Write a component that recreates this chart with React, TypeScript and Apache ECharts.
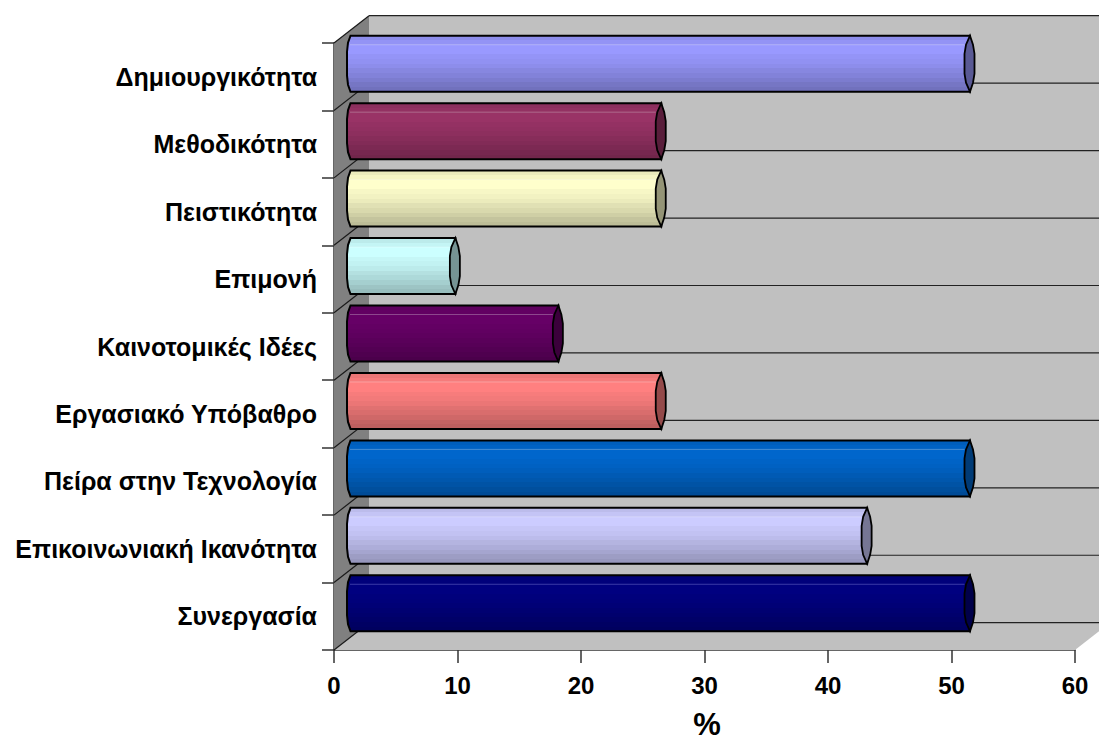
import React, { useEffect, useRef } from "react";
import * as echarts from "echarts";

const categories = ["Συνεργασία", "Επικοινωνιακή Ικανότητα", "Πείρα στην Τεχνολογία", "Εργασιακό Υπόβαθρο", "Καινοτομικές Ιδέες", "Επιμονή", "Πειστικότητα", "Μεθοδικότητα", "Δημιουργικότητα"];
const values = [50, 41.67, 50, 25, 16.67, 8.33, 25, 25, 50];
const colors = ["#000080", "#CCCCFF", "#0066CC", "#FF8080", "#660066", "#CCFFFF", "#FFFFCC", "#993366", "#9999FF"];
const shades = [0.92, 0.96, 1, 1, 0.97, 0.95, 0.92, 0.88, 0.85, 0.81, 0.77, 0.74];

const DX = 35, DY = -27.3;
const OX = 13, OY = -13, HALF = 28;

function shade(hex: string, f: number) {
  const n = parseInt(hex.slice(1), 16);
  const c = [(n >> 16) & 255, (n >> 8) & 255, n & 255].map((v) => Math.round(v * f));
  return `rgb(${c[0]},${c[1]},${c[2]})`;
}

function bandGradient(hex: string) {
  const stops: any[] = [];
  shades.forEach((f, i) => {
    stops.push({ offset: i / shades.length, color: shade(hex, f) });
    stops.push({ offset: (i + 1) / shades.length, color: shade(hex, f) });
  });
  return new echarts.graphic.LinearGradient(0, 0, 0, 1, stops);
}

export default function App() {
  const ref = useRef<HTMLDivElement>(null);
  useEffect(() => {
    const chart = echarts.init(ref.current!, null, { renderer: "svg" });
    const wallItem = (_: any, api: any) => {
      const band = api.size([0, 1])[1];
      const x0 = api.coord([0, 0])[0];
      const x1 = api.coord([60, 0])[0];
      const bottom = api.coord([0, 0])[1] + band / 2;
      const top = api.coord([0, categories.length - 1])[1] - band / 2;
      const children: any[] = [
        { type: "polygon", shape: { points: [[x0 + DX, top + DY], [x1 + DX, top + DY], [x1 + DX, bottom + DY], [x0 + DX, bottom + DY]] }, style: { fill: "#C0C0C0" } },
        { type: "polygon", shape: { points: [[x0, bottom], [x1, bottom], [x1 + DX, bottom + DY], [x0 + DX, bottom + DY]] }, style: { fill: "#C0C0C0" } },
        { type: "polygon", shape: { points: [[x0, top], [x0 + DX, top + DY], [x0 + DX, bottom + DY], [x0, bottom]] }, style: { fill: "#808080" } },
      ];
      for (let i = 0; i <= categories.length; i++) {
        const y = top + i * band;
        children.push({ type: "line", shape: { x1: x0, y1: y, x2: x0 + DX, y2: y + DY }, style: { stroke: "#1a1a1a", lineWidth: 1.2 } });
        children.push({ type: "line", shape: { x1: x0 + DX, y1: y + DY, x2: x1 + DX, y2: y + DY }, style: { stroke: "#222", lineWidth: 1.2 } });
      }
      return { type: "group", children };
    };
    const barItem = (params: any, api: any) => {
      const i = params.dataIndex;
      const [lx0, cy0] = api.coord([0, api.value(1)]);
      const [rx0] = api.coord([api.value(0), api.value(1)]);
      const lx = lx0 + OX, rx = rx0 + OX, cy = cy0 + OY;
      const t = cy - HALF, b = cy + HALF;
      const hex = colors[i];
      return {
        type: "group",
        children: [
          {
            type: "polygon",
            shape: { points: [[lx + 3.5, t], [lx + 1, t + 7], [lx, t + 16], [lx, b - 16], [lx + 1, b - 7], [lx + 3.5, b], [rx + 5.5, b], [rx + 5.5, t]] },
            style: { fill: bandGradient(hex), stroke: "#000", lineWidth: 2 },
          },
          {
            type: "line",
            shape: { x1: lx + 3, y1: t + 9, x2: rx, y2: t + 9 },
            style: { stroke: shade(hex, 1) === "rgb(0,0,128)" ? "#3a3aa8" : "rgba(255,255,255,0.28)", lineWidth: 1 },
          },
          {
            type: "polygon",
            shape: { points: [[rx + 5.5, t], [rx + 1.5, t + 9], [rx, t + 18], [rx, b - 18], [rx + 1.5, b - 9], [rx + 5.5, b], [rx + 8.5, b - 9], [rx + 10, b - 18], [rx + 10, t + 18], [rx + 8.5, t + 9]] },
            style: { fill: shade(hex, 0.58), stroke: "#000", lineWidth: 1.8 },
          },
        ],
      };
    };
    chart.setOption({
      animation: false,
      grid: { left: 334, right: 24, top: 43, bottom: 91, outerBoundsMode: "none" },
      xAxis: {
        type: "value", min: 0, max: 60, interval: 10,
        name: "%", nameLocation: "middle", nameGap: 59,
        nameTextStyle: { fontFamily: "Liberation Sans", fontWeight: "bold", fontSize: 31, color: "#000", padding: [0, 0, 0, 5] },
        axisLine: { show: true, lineStyle: { color: "#333", width: 1.5 } },
        axisTick: { show: true, length: 13, lineStyle: { color: "#333", width: 1.5 } },
        axisLabel: { margin: 23, fontFamily: "Liberation Sans", fontWeight: "bold", fontSize: 24, color: "#000" },
        splitLine: { show: false },
      },
      yAxis: {
        type: "category", data: categories,
        axisLine: { show: true, lineStyle: { color: "#333", width: 1.5 } },
        axisTick: { show: true, length: 12, lineStyle: { color: "#333", width: 1.5 } },
        axisLabel: { margin: 17, fontFamily: "Liberation Sans", fontWeight: "bold", fontSize: 25, color: "#000", lineHeight: 25, padding: [11, 0, 0, 0] },
      },
      series: [
        { type: "custom", clip: false, silent: true, z: 1, renderItem: wallItem, data: [[0, 0]], encode: { x: 0, y: 1 } },
        { type: "custom", clip: false, silent: true, z: 3, renderItem: barItem, data: values.map((v, i) => [v, i]), encode: { x: 0, y: 1 } },
      ],
    });
    return () => chart.dispose();
  }, []);
  return <div ref={ref} style={{ position: "fixed", left: 0, top: 0, width: 1099, height: 741, background: "#fff" }} />;
}
